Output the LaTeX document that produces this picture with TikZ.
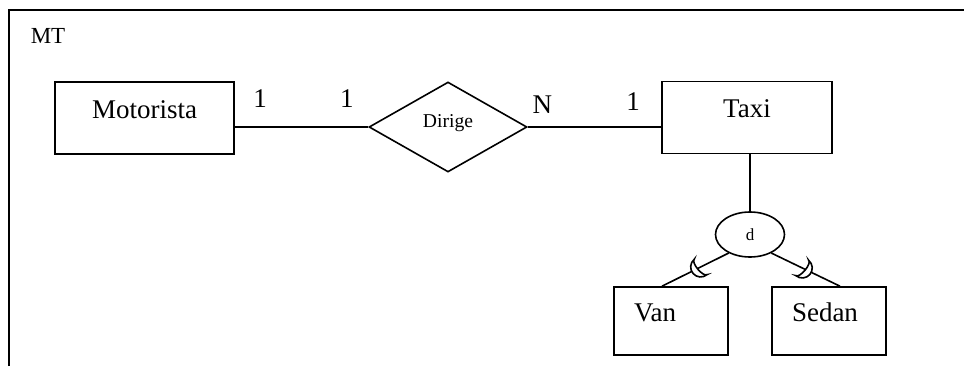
\documentclass[tikz,border=0pt]{standalone}
\usepackage{fontspec}
\setmainfont{Liberation Serif}
\usetikzlibrary{shapes.geometric}

\tikzset{
  entidade/.style={draw, line width=0.8pt, minimum width=89.5pt, minimum height=36pt,
    inner sep=0pt, text height=10pt, text depth=10pt, font=\fontsize{13.5}{16}\selectfont},
  subclasse/.style={entidade, minimum width=57pt, minimum height=34pt,
    text width=37pt, inner xsep=10pt, align=left},
  relac/.style={draw, diamond, line width=0.8pt, minimum width=79pt, minimum height=45pt,
    inner sep=0pt, text height=6pt, text depth=6pt, font=\fontsize{9.8}{11}\selectfont},
  disj/.style={draw, ellipse, line width=0.8pt, minimum width=34.5pt, minimum height=22.5pt,
    inner sep=0pt, font=\fontsize{8.5}{10}\selectfont},
  card/.style={anchor=base, inner sep=0pt, font=\fontsize{13.5}{16}\selectfont},
  subconj/.pic={
    \draw[fill=white, line width=0.8pt] (90:5pt) arc[start angle=90,end angle=270,radius=5pt]
      arc[start angle=270,end angle=90,x radius=1.8pt,y radius=5pt] -- cycle;
  }
}

\begin{document}
\begin{tikzpicture}[x=0.5pt,y=0.5pt,line width=0.8pt]
    \useasboundingbox (0,0) rectangle (964,366);

    % moldura
    \draw[line width=1pt] (9,0) -- (9,356) -- (964,356);
    \node[anchor=base west, inner sep=0pt, font=\fontsize{11.5}{13}\selectfont] (mt) at (30,323) {MT};

    % entidades e relacionamento
    \node[entidade] (motorista) at (144.5,248) {Motorista};
    \node[relac] (dirige) at (448,239) {Dirige};
    \node[entidade, minimum width=85pt] (taxi) at (747,248.5) {Taxi};

    \draw (motorista.east |- dirige) -- node[card,pos=0.19,yshift=10pt] (c1) {1}
                              node[card,pos=0.84,yshift=10pt] (c2) {1} (dirige.west);
    \draw (dirige.east) -- node[card,pos=0.11,yshift=7pt] (c3) {N}
                           node[card,pos=0.79,yshift=8.5pt] (c4) {1} (taxi.west |- dirige);

    % especializacao disjunta
    \node[disj] (d) at (750,131.5) {d};
    \node[subclasse] (van) at (671,45) {Van};
    \node[subclasse] (sedan) at (829,45) {Sedan};

    \draw (d.north |- taxi.south) -- (d.north);
    \draw (d.-139) -- coordinate[pos=0.42] (cupvan) ([xshift=-4.5pt]van.north);
    \draw (d.-41) -- coordinate[pos=0.45] (cupsedan) ([xshift=5.5pt]sedan.north);
    \pic[rotate=40] at (cupvan) {subconj};
    \pic[rotate=140] at (cupsedan) {subconj};
\end{tikzpicture}
\end{document}
